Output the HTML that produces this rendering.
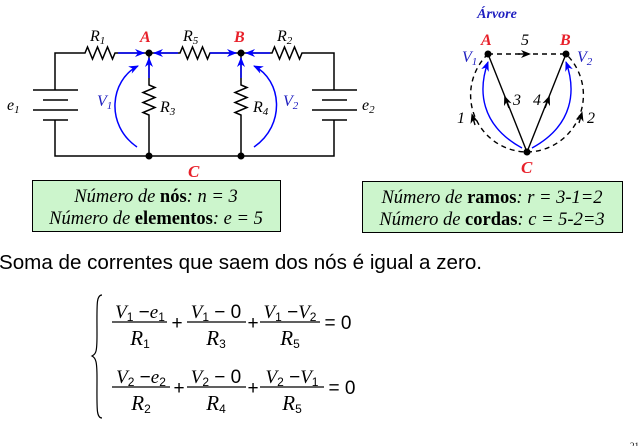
<!DOCTYPE html>
<html><head><meta charset="utf-8"><style>
html,body{margin:0;padding:0;background:#fff;width:640px;height:446px;overflow:hidden}
svg{display:block}
.t{font-family:"Liberation Serif",serif;font-style:italic}
</style></head><body>
<svg width="640" height="446" viewBox="0 0 640 446" xmlns="http://www.w3.org/2000/svg">
<defs>
<marker id="bl" markerWidth="10" markerHeight="8" refX="9" refY="4" orient="auto" markerUnits="userSpaceOnUse"><path d="M0,0 L10,4 L0,8 L3,4 Z" fill="#0000ff"/></marker>
<marker id="bk" markerWidth="10" markerHeight="8" refX="5" refY="4" orient="auto" markerUnits="userSpaceOnUse"><path d="M0,0 L10,4 L0,8 L3,4 Z" fill="#000"/></marker>
</defs>
<g stroke="#000" stroke-width="1.5" fill="none">
<path d="M55,90 V53 H85 l2.5,-6 l5,12 l5,-12 l5,12 l5,-12 l5,12 l2.5,-6 H180 l2.5,-6 l5,12 l5,-12 l5,12 l5,-12 l5,12 l2.5,-6 H272 l2.5,-6 l5,12 l5,-12 l5,12 l5,-12 l5,12 l2.5,-6 H334 V90"/>
<path d="M55,120 V156 H334 V120"/>
<path d="M149,53 V85 l6,2.5 l-12,5 l12,5 l-12,5 l12,5 l-12,5 l6,2.5 V156"/>
<path d="M241,53 V85 l6,2.5 l-12,5 l12,5 l-12,5 l12,5 l-12,5 l6,2.5 V156"/>
<path d="M33,90 H78 M43,100 H68 M33,110 H78 M43,120 H68"/>
<path d="M312,90 H357 M322,100 H347 M312,110 H357 M322,120 H347"/>
</g>
<g fill="#000"><circle cx="149" cy="53" r="3.5"/><circle cx="241" cy="53" r="3.5"/><circle cx="149" cy="156" r="3.5"/><circle cx="241" cy="156" r="3.5"/></g>
<g stroke="#0000ff" stroke-width="1.5" fill="none">
<path d="M118,53 H144" marker-end="url(#bl)"/>
<path d="M178,53 H154" marker-end="url(#bl)"/>
<path d="M149,78 V58" marker-end="url(#bl)"/>
<path d="M210,53 H236" marker-end="url(#bl)"/>
<path d="M270,53 H246" marker-end="url(#bl)"/>
<path d="M241,78 V58" marker-end="url(#bl)"/>
<path d="M137,147 C105,125 110,80 138,66" marker-end="url(#bl)"/>
<path d="M254,147 C286,125 282,80 254,66" marker-end="url(#bl)"/>
</g>
<g class="t" font-size="16">
<text x="90" y="41">R<tspan font-size="11" dy="3">1</tspan></text>
<text x="183" y="41">R<tspan font-size="11" dy="3">5</tspan></text>
<text x="277" y="41">R<tspan font-size="11" dy="3">2</tspan></text>
<text x="140" y="42" fill="#e8202a" font-weight="bold">A</text>
<text x="234" y="42" fill="#e8202a" font-weight="bold">B</text>
<text x="188" y="177" fill="#e8202a" font-weight="bold" font-size="17">C</text>
<text x="160" y="112">R<tspan font-size="11" dy="3">3</tspan></text>
<text x="253" y="112">R<tspan font-size="11" dy="3">4</tspan></text>
<text x="97" y="106" fill="#2020c0">V<tspan font-size="11" dy="3">1</tspan></text>
<text x="283" y="106" fill="#2020c0">V<tspan font-size="11" dy="3">2</tspan></text>
<text x="7" y="110">e<tspan font-size="11" dy="3">1</tspan></text>
<text x="362" y="110">e<tspan font-size="11" dy="3">2</tspan></text>
</g>
<text x="497" y="18" class="t" font-size="14" font-weight="bold" fill="#2020c0" text-anchor="middle">Árvore</text>
<g stroke="#000" stroke-width="1.4" fill="none">
<path d="M488,54 H566" stroke-dasharray="5,4"/>
<path d="M488,54 A57,57 0 0,0 527,152" stroke-dasharray="5,4"/>
<path d="M527,152 A57,57 0 0,0 566,54" stroke-dasharray="5,4"/>
<path d="M527,152 L488,54 M527,152 L566,54"/>
<path d="M518,54 H526" marker-end="url(#bk)"/>
<path d="M509,108 L506,100" marker-end="url(#bk)"/>
<path d="M545,108 L548,100" marker-end="url(#bk)"/>
<path d="M475,125 L473,118" marker-end="url(#bk)"/>
<path d="M579,123 L581,116" marker-end="url(#bk)"/>
</g>
<g stroke="#0000ff" stroke-width="1.4" fill="none">
<path d="M522,148 C480,125 478,90 488,62" marker-end="url(#bl)"/>
<path d="M532,148 C574,125 576,90 566,62" marker-end="url(#bl)"/>
</g>
<g fill="#000"><circle cx="488" cy="54" r="3.5"/><circle cx="566" cy="54" r="3.5"/><circle cx="527" cy="152" r="3.5"/></g>
<g class="t" font-size="16">
<text x="481" y="45" fill="#e8202a" font-weight="bold">A</text>
<text x="560" y="45" fill="#e8202a" font-weight="bold">B</text>
<text x="521" y="173" fill="#e8202a" font-weight="bold" font-size="17">C</text>
<text x="521" y="45">5</text>
<text x="462" y="62" fill="#2020c0">V<tspan font-size="11" dy="3">1</tspan></text>
<text x="577" y="62" fill="#2020c0">V<tspan font-size="11" dy="3">2</tspan></text>
<text x="513" y="105">3</text>
<text x="533" y="105">4</text>
<text x="457" y="123">1</text>
<text x="587" y="123">2</text>
</g>
<rect x="32.5" y="180.5" width="248" height="51" fill="#ccf5cc" stroke="#000"/>
<rect x="362.5" y="181.5" width="260" height="51" fill="#ccf5cc" stroke="#000"/>
<g class="t" font-size="18.5" text-anchor="middle">
<text x="156" y="202">Número de <tspan font-weight="bold" font-style="normal">nós</tspan>:  n = 3</text>
<text x="156" y="224">Número de <tspan font-weight="bold" font-style="normal">elementos</tspan>: e = 5</text>
<text x="492" y="203">Número de <tspan font-weight="bold" font-style="normal">ramos</tspan>: r = 3-1=2</text>
<text x="492" y="225">Número de <tspan font-weight="bold" font-style="normal">cordas</tspan>: c = 5-2=3</text>
</g>
<text x="-1" y="269" font-family="Liberation Sans,sans-serif" font-size="20" textLength="483" lengthAdjust="spacingAndGlyphs">Soma de correntes que saem dos nós é igual a zero.</text>
<path d="M102,295 C96,295 97,305 97,335 C97,352 96,354 92,356 C96,358 97,362 97,378 C97,408 96,418 102,418" stroke="#000" fill="none" stroke-width="1.2"/>
<g stroke="#000" stroke-width="1.2">
<line x1="112" y1="322" x2="167" y2="322"/><line x1="187" y1="322" x2="246" y2="322"/><line x1="260" y1="322" x2="320" y2="322"/>
<line x1="112" y1="387" x2="170" y2="387"/><line x1="187" y1="387" x2="246" y2="387"/><line x1="260" y1="387" x2="324" y2="387"/>
</g>
<g font-family="Liberation Sans,sans-serif" font-size="19" text-anchor="middle">
<text x="140" y="318"><tspan class="t">V</tspan><tspan font-size="12" dy="3">1</tspan><tspan dy="-3"> −</tspan><tspan class="t">e</tspan><tspan font-size="12" dy="3">1</tspan></text>
<text x="216" y="318"><tspan class="t">V</tspan><tspan font-size="12" dy="3">1</tspan><tspan dy="-3"> − 0</tspan></text>
<text x="290" y="318"><tspan class="t">V</tspan><tspan font-size="12" dy="3">1</tspan><tspan dy="-3"> −</tspan><tspan class="t">V</tspan><tspan font-size="12" dy="3">2</tspan></text>
<text x="140" y="345" font-size="21"><tspan class="t">R</tspan><tspan font-size="12" dy="3">1</tspan></text>
<text x="216" y="345" font-size="21"><tspan class="t">R</tspan><tspan font-size="12" dy="3">3</tspan></text>
<text x="290" y="345" font-size="21"><tspan class="t">R</tspan><tspan font-size="12" dy="3">5</tspan></text>
<text x="177" y="329">+</text><text x="253" y="329">+</text><text x="338" y="329">= 0</text>
<text x="141" y="383"><tspan class="t">V</tspan><tspan font-size="12" dy="3">2</tspan><tspan dy="-3"> −</tspan><tspan class="t">e</tspan><tspan font-size="12" dy="3">2</tspan></text>
<text x="216" y="383"><tspan class="t">V</tspan><tspan font-size="12" dy="3">2</tspan><tspan dy="-3"> − 0</tspan></text>
<text x="292" y="383"><tspan class="t">V</tspan><tspan font-size="12" dy="3">2</tspan><tspan dy="-3"> −</tspan><tspan class="t">V</tspan><tspan font-size="12" dy="3">1</tspan></text>
<text x="141" y="410" font-size="21"><tspan class="t">R</tspan><tspan font-size="12" dy="3">2</tspan></text>
<text x="216" y="410" font-size="21"><tspan class="t">R</tspan><tspan font-size="12" dy="3">4</tspan></text>
<text x="292" y="410" font-size="21"><tspan class="t">R</tspan><tspan font-size="12" dy="3">5</tspan></text>
<text x="179" y="394">+</text><text x="253" y="394">+</text><text x="342" y="394">= 0</text>
</g>
<text x="630" y="449" font-family="Liberation Serif,serif" font-size="9">21</text>
</svg>
</body></html>
